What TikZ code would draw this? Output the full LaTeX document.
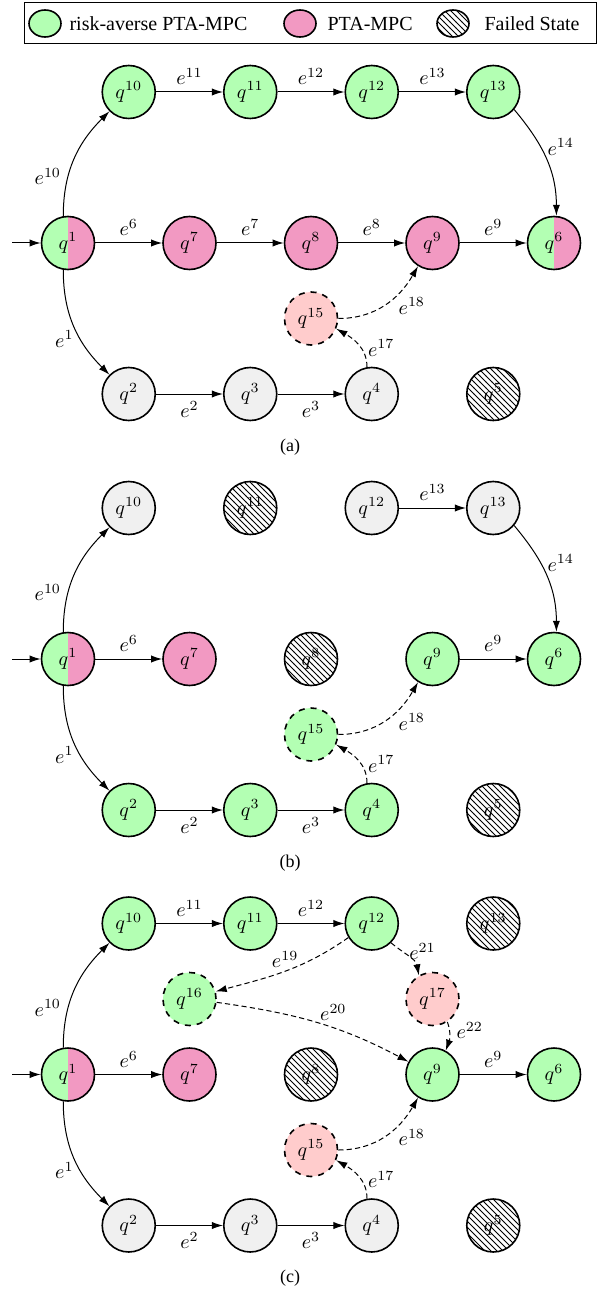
\documentclass[tikz,border=0pt]{standalone}
\usepackage[no-math]{fontspec}
\newfontfamily\tnr{Liberation Serif}
\usetikzlibrary{arrows.meta,patterns,shapes.geometric}
\definecolor{rgreen}{RGB}{179,255,179}
\definecolor{ppink}{RGB}{242,153,194}
\definecolor{lred}{RGB}{255,204,204}
\definecolor{ggray}{RGB}{240,240,240}
\tikzset{
  st/.style={circle, draw, line width=0.8pt, minimum size=26.5pt, inner sep=0pt},
  gr/.style={st, fill=rgreen},
  pk/.style={st, fill=ppink},
  gy/.style={st, fill=ggray},
  lr/.style={st, fill=lred, dashed},
  lg/.style={st, fill=rgreen, dashed},
  fl/.style={st, pattern=north west lines},
  hf/.style={st, path picture={
     \fill[rgreen] (path picture bounding box.south west) rectangle (path picture bounding box.north);
     \fill[ppink] (path picture bounding box.south) rectangle (path picture bounding box.north east);}},
  tr/.style={-{Latex[length=5.5pt,width=3.6pt]}, line width=0.5pt},
  dtr/.style={tr, dash pattern=on 2.6pt off 1.6pt},
  legc/.style={ellipse, draw, line width=0.8pt, minimum width=16pt, minimum height=13.5pt, inner sep=0pt},
  legt/.style={anchor=west, font=\tnr},
  captxt/.style={font=\tnr\small}
}
\begin{document}
\begin{tikzpicture}[x=0.5pt,y=0.5pt]
\useasboundingbox (0,0) rectangle (600,-1294);
% legend
\draw[line width=0.5pt] (24,-3) rectangle (596,-44);
\node[legc, fill=rgreen] (lg1) at (45,-23.5) {};
\node[legt] (lt1) at (62.5,-23.5) {risk-averse PTA-MPC};
\node[legc, fill=ppink] (lg2) at (300,-23.5) {};
\node[legt] (lt2) at (320.5,-23.5) {PTA-MPC};
\node[legc, pattern=north west lines] (lg3) at (453,-23.5) {};
\node[legt] (lt3) at (477.5,-23.5) {Failed State};

% ---------------- panel (a)
\node[gr] (a10) at (128.75,-92) {$q^{10}$};
\node[gr] (a11) at (250.25,-92) {$q^{11}$};
\node[gr] (a12) at (371.75,-92) {$q^{12}$};
\node[gr] (a13) at (493.25,-92) {$q^{13}$};
\node[hf] (a1) at (68,-243) {$q^{1}$};
\node[pk] (a7) at (189.5,-243) {$q^{7}$};
\node[pk] (a8) at (311,-243) {$q^{8}$};
\node[pk] (a9) at (432.5,-243) {$q^{9}$};
\node[hf] (a6) at (554,-243) {$q^{6}$};
\node[lr] (a15) at (311,-318.5) {$q^{15}$};
\node[gy] (a2) at (128.75,-394) {$q^{2}$};
\node[gy] (a3) at (250.25,-394) {$q^{3}$};
\node[gy] (a4) at (371.75,-394) {$q^{4}$};
\node[fl] (a5) at (493.25,-394) {$q^{5}$};
\coordinate (ai) at (12,-243);
\draw[tr] (ai) -- (a1);
\draw[tr] (a1.100) to[out=90,in=225] node[pos=0.33,left] {$e^{10}$} (a10.225);
\draw[tr] (a10) -- node[above] {$e^{11}$} (a11);
\draw[tr] (a11) -- node[above] {$e^{12}$} (a12);
\draw[tr] (a12) -- node[above] {$e^{13}$} (a13);
\draw[tr] (a13.-40) to[out=-50,in=90] node[pos=0.38,right] {$e^{14}$} (a6.85);
\draw[tr] (a1) -- node[above] {$e^{6}$} (a7);
\draw[tr] (a7) -- node[above] {$e^{7}$} (a8);
\draw[tr] (a8) -- node[above] {$e^{8}$} (a9);
\draw[tr] (a9) -- node[above] {$e^{9}$} (a6);
\draw[tr] (a1.260) to[out=270,in=135] node[pos=0.62,left] {$e^{1}$} (a2.135);
\draw[tr] (a2) -- node[below] {$e^{2}$} (a3);
\draw[tr] (a3) -- node[below] {$e^{3}$} (a4);
\draw[dtr] (a4.100) to[out=90,in=-30] node[pos=0.4,right] {$e^{17}$} (a15.-22);
\draw[dtr] (a15.east) to[out=0,in=-120] node[pos=0.65,below right,inner sep=1pt] {$e^{18}$} (a9.238);
\node[captxt] (capa) at (290,-447) {(a)};

% ---------------- panel (b)
\begin{scope}[shift={(0,-416)}]
\node[gy] (b10) at (128.75,-92) {$q^{10}$};
\node[fl] (b11) at (250.25,-92) {$q^{11}$};
\node[gy] (b12) at (371.75,-92) {$q^{12}$};
\node[gy] (b13) at (493.25,-92) {$q^{13}$};
\node[hf] (b1) at (68,-243) {$q^{1}$};
\node[pk] (b7) at (189.5,-243) {$q^{7}$};
\node[fl] (b8) at (311,-243) {$q^{8}$};
\node[gr] (b9) at (432.5,-243) {$q^{9}$};
\node[gr] (b6) at (554,-243) {$q^{6}$};
\node[lg] (b15) at (311,-318.5) {$q^{15}$};
\node[gr] (b2) at (128.75,-394) {$q^{2}$};
\node[gr] (b3) at (250.25,-394) {$q^{3}$};
\node[gr] (b4) at (371.75,-394) {$q^{4}$};
\node[fl] (b5) at (493.25,-394) {$q^{5}$};
\coordinate (bi) at (12,-243);
\draw[tr] (bi) -- (b1);
\draw[tr] (b1.100) to[out=90,in=225] node[pos=0.33,left] {$e^{10}$} (b10.225);
\draw[tr] (b12) -- node[above] {$e^{13}$} (b13);
\draw[tr] (b13.-40) to[out=-50,in=90] node[pos=0.38,right] {$e^{14}$} (b6.85);
\draw[tr] (b1) -- node[above] {$e^{6}$} (b7);
\draw[tr] (b9) -- node[above] {$e^{9}$} (b6);
\draw[tr] (b1.260) to[out=270,in=135] node[pos=0.62,left] {$e^{1}$} (b2.135);
\draw[tr] (b2) -- node[below] {$e^{2}$} (b3);
\draw[tr] (b3) -- node[below] {$e^{3}$} (b4);
\draw[dtr] (b4.100) to[out=90,in=-30] node[pos=0.4,right] {$e^{17}$} (b15.-22);
\draw[dtr] (b15.east) to[out=0,in=-120] node[pos=0.65,below right,inner sep=1pt] {$e^{18}$} (b9.238);
\node[captxt] (capb) at (290,-447) {(b)};
\end{scope}

% ---------------- panel (c)
\begin{scope}[shift={(0,-831.5)}]
\node[gr] (c10) at (128.75,-92) {$q^{10}$};
\node[gr] (c11) at (250.25,-92) {$q^{11}$};
\node[gr] (c12) at (371.75,-92) {$q^{12}$};
\node[fl] (c13) at (493.25,-92) {$q^{13}$};
\node[lg] (c16) at (189.5,-167.5) {$q^{16}$};
\node[lr] (c17) at (432.5,-167.5) {$q^{17}$};
\node[hf] (c1) at (68,-243) {$q^{1}$};
\node[pk] (c7) at (189.5,-243) {$q^{7}$};
\node[fl] (c8) at (311,-243) {$q^{8}$};
\node[gr] (c9) at (432.5,-243) {$q^{9}$};
\node[gr] (c6) at (554,-243) {$q^{6}$};
\node[lr] (c15) at (311,-318.5) {$q^{15}$};
\node[gy] (c2) at (128.75,-394) {$q^{2}$};
\node[gy] (c3) at (250.25,-394) {$q^{3}$};
\node[gy] (c4) at (371.75,-394) {$q^{4}$};
\node[fl] (c5) at (493.25,-394) {$q^{5}$};
\coordinate (ci) at (12,-243);
\draw[tr] (ci) -- (c1);
\draw[tr] (c1.100) to[out=90,in=225] node[pos=0.33,left] {$e^{10}$} (c10.225);
\draw[tr] (c10) -- node[above] {$e^{11}$} (c11);
\draw[tr] (c11) -- node[above] {$e^{12}$} (c12);
\draw[dtr] (c12.211) to[out=215,in=15] node[pos=0.5,above,inner sep=1.5pt] {$e^{19}$} (c16.16);
\draw[dtr] (c16.-7) to[out=-8,in=152] node[pos=0.6,above] {$e^{20}$} (c9.152);
\draw[dtr] (c12.-45) to[out=-40,in=100] node[pos=0.3,right] {$e^{21}$} (c17.120);
\draw[dtr] (c17.-57) to[out=-70,in=70] node[pos=0.3,right] {$e^{22}$} (c9.61);
\draw[tr] (c1) -- node[above] {$e^{6}$} (c7);
\draw[tr] (c9) -- node[above] {$e^{9}$} (c6);
\draw[tr] (c1.260) to[out=270,in=135] node[pos=0.62,left] {$e^{1}$} (c2.135);
\draw[tr] (c2) -- node[below] {$e^{2}$} (c3);
\draw[tr] (c3) -- node[below] {$e^{3}$} (c4);
\draw[dtr] (c4.100) to[out=90,in=-30] node[pos=0.4,right] {$e^{17}$} (c15.-22);
\draw[dtr] (c15.east) to[out=0,in=-120] node[pos=0.65,below right,inner sep=1pt] {$e^{18}$} (c9.238);
\node[captxt] (capc) at (290,-447) {(c)};
\end{scope}
\end{tikzpicture}
\end{document}
